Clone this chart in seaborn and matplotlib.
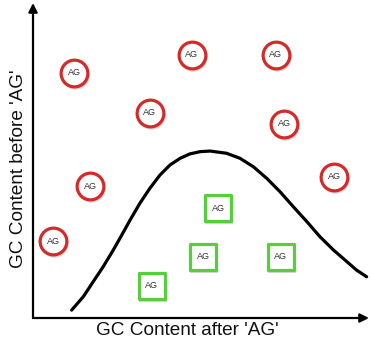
import matplotlib
matplotlib.use("Agg")
import matplotlib.pyplot as plt
from matplotlib.transforms import offset_copy
import pandas as pd
import seaborn as sns

# values (arbitrary 0-100 units on both axes)
red_x = [12.2, 47.3, 72.3, 34.8, 74.7, 17.0, 6.0, 89.6]
red_y = [77.8, 83.5, 83.5, 65.1, 61.6, 41.9, 24.4, 44.8]

green_x = [55.1, 50.6, 73.8, 35.4]
green_y = [34.9, 19.4, 19.4, 10.2]

curve_x = [11.5, 15.0, 17.9, 20.9, 23.9, 26.4, 28.9, 31.8, 34.8, 37.8, 40.8, 43.8, 46.7, 49.7,
           52.7, 57.6, 61.6, 65.6, 69.6, 73.5, 77.5, 81.5, 85.4, 89.4, 93.4, 96.3, 99.3]
curve_y = [2.5, 6.8, 11.5, 16.3, 21.6, 26.3, 31.1, 36.4, 41.2, 45.4, 48.6, 50.7, 52.1, 52.8,
           53.0, 52.3, 50.7, 48.0, 44.3, 40.1, 35.3, 30.6, 25.8, 21.6, 17.9, 15.2, 13.1]

marker_label = "AG"
xlabel = "GC Content after 'AG'"
ylabel = "GC Content before 'AG'"

sns.set_theme(style="white")
plt.rcParams["font.family"] = ["Liberation Sans", "DejaVu Sans"]

fig = plt.figure(figsize=(3.71, 3.40), dpi=100)
ax = fig.add_axes([33 / 371, 22 / 340, 336 / 371, 315 / 340])
ax.set_xlim(0, 100)
ax.set_ylim(0, 100)

red_df = pd.DataFrame({"x": red_x, "y": red_y})
green_df = pd.DataFrame({"x": green_x, "y": green_y})
curve_df = pd.DataFrame({"x": curve_x, "y": curve_y})

sns.lineplot(data=curve_df, x="x", y="y", ax=ax, color="black", linewidth=2.3, sort=False)
ax.lines[-1].set_solid_joinstyle("round")

# soft drop shadow under the markers
shadow_tr = offset_copy(ax.transData, fig=fig, x=1, y=-2, units="dots")
for df, m, s in [(red_df, "o", 420), (green_df, "s", 380)]:
    sns.scatterplot(data=df, x="x", y="y", ax=ax, marker=m, s=s, color="#777777",
                    alpha=0.3, linewidth=0, zorder=2, transform=shadow_tr)

sns.scatterplot(data=red_df, x="x", y="y", ax=ax, marker="o", s=370, color="white",
                edgecolor="#d42a2a", linewidth=2.3, zorder=3)
sns.scatterplot(data=green_df, x="x", y="y", ax=ax, marker="s", s=330, color="white",
                edgecolor="#55d03a", linewidth=2.3, zorder=3)

for x, y in zip(red_x + green_x, red_y + green_y):
    ax.text(x, y, marker_label, ha="center", va="center", fontsize=6.5, color="#333333", zorder=4)

for s in ax.spines.values():
    s.set_visible(False)
ax.set_xticks([])
ax.set_yticks([])

arrow = dict(arrowstyle="-|>", lw=1.6, color="black", mutation_scale=13, shrinkA=0, shrinkB=0)
ax.annotate("", xy=(1.0, 0), xytext=(0, 0), xycoords="axes fraction", arrowprops=arrow, annotation_clip=False)
ax.annotate("", xy=(0, 1.0), xytext=(0, 0), xycoords="axes fraction", arrowprops=arrow, annotation_clip=False)

ax.set_xlabel(xlabel, fontsize=13.7, color="#111111")
ax.xaxis.set_label_coords(0.46, -0.012)
ax.set_ylabel(ylabel, fontsize=13.7, color="#111111", va="center")
ax.yaxis.set_label_coords(-0.042, 0.473)

fig.savefig("out.png", dpi=100)
